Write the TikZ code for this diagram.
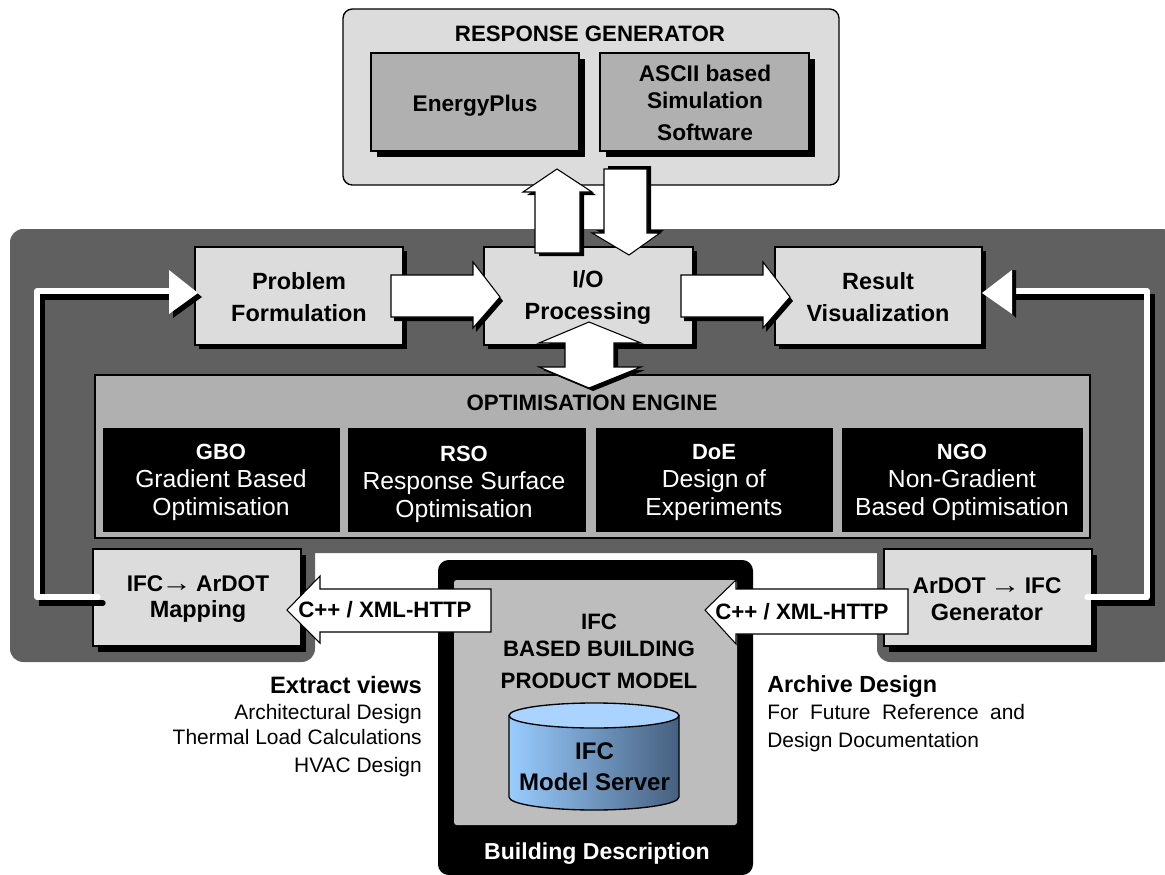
\documentclass[tikz,border=0pt]{standalone}
\usepackage{fontspec}
\setmainfont{Liberation Sans}
\usetikzlibrary{shadows}
\definecolor{panelc}{HTML}{606060}
\definecolor{lightc}{HTML}{DCDCDC}
\definecolor{midc}{HTML}{B0B0B0}
\definecolor{innerc}{HTML}{BDBDBD}
\definecolor{cyltop}{HTML}{AAD4FF}
\definecolor{cylleft}{HTML}{99CCFF}
\definecolor{cylright}{HTML}{46607F}
\newcommand{\arr}{\kern-1.5pt{\mdseries\scalebox{1.35}[1.1]{→}}\kern-1.5pt}
\newcommand{\fnt}[2]{\fontsize{#1}{#2}\selectfont}
\newcommand{\hdr}[1]{{\bfseries\fnt{16.5}{21}#1}}
\newcommand{\blockarrow}[3]{%
  \fill[black,shift={(#1,#2)}] #3;
  \draw[fill=white,draw=black,line width=0.8pt,line join=miter] #3;}
\tikzset{
  sized/.style 2 args={minimum width=#1*0.75pt,minimum height=#2*0.75pt,inner sep=0pt,outer sep=0pt},
  shadowbox/.style={draw=black,line width=1pt,fill=lightc,
     drop shadow={shadow xshift=3pt,shadow yshift=-3pt,fill=black,opacity=1}},
  lowbox/.style={draw=black,line width=1pt,fill=lightc,
     drop shadow={shadow xshift=3.75pt,shadow yshift=-4.5pt,fill=black,opacity=1}},
  midbox/.style={draw=black,line width=1pt,fill=midc,
     drop shadow={shadow xshift=4.5pt,shadow yshift=-4.5pt,fill=black,opacity=1}},
  blackbox/.style={fill=black},
  blacktext/.style={text=white,inner sep=0pt,outer sep=0pt,align=center,font=\fnt{18.5}{21}},
  textlabel/.style={inner sep=0pt,outer sep=0pt,align=center,font=\bfseries\fnt{16.7}{24}},
  boxlabel/.style={inner sep=0pt,outer sep=0pt,align=center,font=\bfseries\fnt{17.6}{24}},
  feedback/.style={white,line width=4pt,line cap=round,line join=round},
  feedbackshadow/.style={black,line width=4pt,line cap=round,line join=miter},
}
\begin{document}
\begin{tikzpicture}[x=0.75pt,y=-0.75pt]
\useasboundingbox (0,0) rectangle (1165,875);
% response generator
\node[sized={496}{176},draw=black,line width=1pt,fill=lightc,rounded corners=7pt] (resp) at (591,97) {};
\node[textlabel] (respt) at (590,34) {RESPONSE GENERATOR};
% main panel
\fill[panelc] (10,400) [rounded corners=10pt] -- (10,229) -- (1175,229) -- (1175,662) -- (877,662) [sharp corners] -- (877,553) -- (315,553) [rounded corners=10pt] -- (315,662) -- (10,662) -- cycle;
\node[midbox,sized={208}{98}] (ep) at (475,102) {};
\node[boxlabel,font=\bfseries\fnt{17}{24}] (ept) at (475,105.5) {EnergyPlus};
\node[midbox,sized={209}{98}] (ascii) at (704.5,102) {};
\node[boxlabel,font=\bfseries\fnt{17}{20.25}] (asciit) at (705,103) {ASCII based\\Simulation\\[3.75pt]Software};
% top row
\node[shadowbox,sized={208}{98}] (pf) at (299,296) {};
\node[boxlabel] (pft) at (299,297.5) {Problem\\Formulation};
\node[shadowbox,sized={209}{98}] (io) at (588.5,296) {};
\node[shadowbox,sized={207}{98}] (rv) at (878.5,296) {};
\node[boxlabel] (rvt) at (878,297.5) {Result\\Visualization};
% optimisation engine
\node[sized={995}{163},draw=black,line width=1pt,fill=midc] (opt) at (592.5,456.5) {};
\node[blackbox,sized={237}{104}] (gbo) at (221.5,480) {};
\node[blacktext] (gbot) at (221,482.5) {\hdr{GBO}\\Gradient Based\\Optimisation};
\node[blackbox,sized={238}{104}] (rso) at (467,480) {};
\node[blacktext] (rsot) at (464,484) {\hdr{RSO}\\Response Surface\\Optimisation};
\node[blackbox,sized={237}{104}] (doe) at (714.5,480) {};
\node[blacktext] (doet) at (714,482.5) {\hdr{DoE}\\Design of\\Experiments};
\node[blackbox,sized={241}{104}] (ngo) at (962.5,480) {};
\node[blacktext] (ngot) at (962,482.5) {\hdr{NGO}\\Non-Gradient\\Based Optimisation};
% bottom row boxes
\node[lowbox,sized={208}{97}] (map) at (197,597.5) {};
\node[boxlabel,font=\bfseries\fnt{17}{20}] (mapt) at (198,599) {IFC\arr{} ArDOT\\{\fnt{17.6}{20}Mapping}};
\node[lowbox,sized={208}{97}] (gen) at (988,597.5) {};
\node[boxlabel,font=\bfseries\fnt{17}{20}] (gent) at (987,599.5) {ArDOT \arr{} IFC\\{\fnt{17.6}{20}Generator}};
% building description
\node[sized={315}{315},fill=black,rounded corners=8pt] (bld) at (595.5,717.5) {};
\node[sized={283}{245},fill=innerc,rounded corners=2pt] (ifc) at (595.5,702.5) {};
\node[textlabel,text=white,font=\bfseries\fnt{17.3}{24}] (bldt) at (597,854) {Building Description};
\node[textlabel,font=\bfseries\fnt{16.7}{20.25}] (ifct) at (599,651) {IFC\\BASED BUILDING\\[3.75pt]PRODUCT MODEL};
% cylinder
\path[left color=cylleft,right color=cylright,draw=black,line width=1pt] (509,715.5) -- (509,797) arc[start angle=180,end angle=0,x radius=85,y radius=13] -- (679,715.5) -- cycle;
\draw[fill=cyltop,line width=1pt] (594,715.5) ellipse[x radius=85,y radius=12.5];
\node[textlabel,font=\bfseries\fnt{18}{23.25}] (srv) at (594.5,766.5) {IFC\\Model Server};
% block arrows
\blockarrow{4}{3}{(557,169) -- (592,192) -- (580,192) -- (580,253) -- (535,253) -- (535,192) -- (523,192) -- cycle}
\blockarrow{4}{-3}{(604,169) -- (647,169) -- (647,233) -- (660,233) -- (629,255) -- (592,233) -- (604,233) -- cycle}
\blockarrow{3}{4}{(391,275) -- (473,275) -- (473,262) -- (500,297) -- (473,328) -- (473,317) -- (391,317) -- cycle}
\blockarrow{3}{4}{(681,275) -- (763,275) -- (763,262) -- (790,297) -- (763,328) -- (763,317) -- (681,317) -- cycle}
\blockarrow{4}{3}{(589,322) -- (641,343) -- (614,343) -- (614,367) -- (641,367) -- (589,388) -- (539,367) -- (565,367) -- (565,343) -- (539,343) -- cycle}
% I/O text above its arrows
\node[boxlabel] (iot) at (588,297.5) {I/O\\Processing};
% C++ arrows
\draw[fill=white,line width=0.8pt] (287,610) -- (320,576) -- (320,589) -- (491,589) -- (491,632) -- (320,632) -- (320,643) -- cycle;
\node[textlabel,font=\bfseries\fnt{16.7}{20}] (cppl) at (385,610) {C++ / XML-HTTP};
\draw[fill=white,line width=0.8pt] (705,610) -- (736,580) -- (736,589) -- (908,589) -- (908,634) -- (736,634) -- (736,644) -- cycle;
\node[textlabel,font=\bfseries\fnt{16.7}{20}] (cppr) at (802,611.5) {C++ / XML-HTTP};
% feedback lines
\coordinate (fl1) at (98,597);
\coordinate (fl2) at (37,597);
\coordinate (fl3) at (37,291);
\coordinate (fl4) at (170,291);
\coordinate (fr0) at (1092,597);
\coordinate (fr1) at (1087,597);
\coordinate (fr2) at (1147,597);
\coordinate (fr3) at (1147,291);
\coordinate (fr4) at (1011,291);
\tikzset{sh/.style={xshift=3.75pt,yshift=-4.5pt}}
\draw[feedbackshadow] ([sh]fl1) -- ([sh]fl2) -- ([sh]fl3) -- ([sh]fl4);
\draw[feedbackshadow,line cap=butt] ([sh]fr0) -- ([sh]fr2) -- ([sh]fr3) -- ([sh]fr4);
\draw[feedback] (fl1) -- (fl2) -- (fl3) -- (fl4);
\draw[feedback] (fr1) -- (fr2) -- (fr3) -- (fr4);
\fill[black,shift={(4,4)}] (198,293) -- (169,270) -- (169,314) -- cycle;
\fill[white] (198,293) -- (169,270) -- (169,314) -- cycle;
\fill[black] (1012,270) -- (1016,270) -- (1016,318) -- (1012,314) -- cycle;
\fill[white] (982,293) -- (1012,270) -- (1012,314) -- cycle;
% optimisation title after arrow
\node[textlabel,font=\bfseries\fnt{16.7}{20}] (optt) at (592,403) {OPTIMISATION ENGINE};
% captions
\node[inner sep=0pt,align=right,anchor=east,font=\fnt{15.7}{18.75}] (ev) at (422,727) {{\bfseries\fnt{17.8}{18.75}Extract views}\\[0.75pt]Architectural Design\\Thermal Load Calculations\\[2.25pt]HVAC Design};
\node[inner sep=0pt,align=left,anchor=west,font=\fnt{15.7}{20}] (ad) at (767,714) {{\bfseries\fnt{17.5}{20}Archive Design}\\{\spaceskip=8.6pt For Future Reference and}\\[1pt]Design Documentation};
\end{tikzpicture}
\end{document}
